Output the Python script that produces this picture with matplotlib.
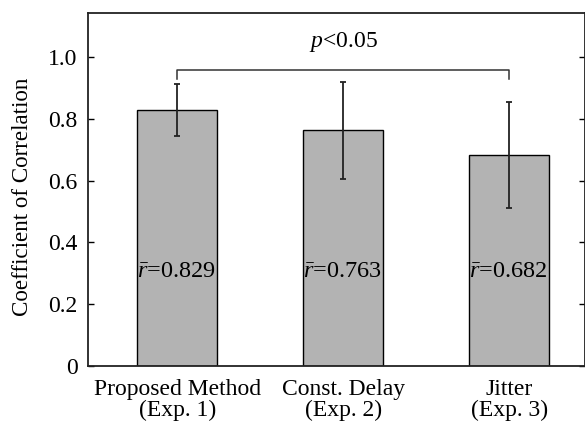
import matplotlib
matplotlib.use("Agg")
import matplotlib.pyplot as plt
import numpy as np

categories = ["Proposed Method\n(Exp. 1)", "Const. Delay\n(Exp. 2)", "Jitter\n(Exp. 3)"]
means = [0.829, 0.763, 0.682]
errors = [0.083, 0.156, 0.172]
bar_labels = ["0.829", "0.763", "0.682"]
yticks = [0, 0.2, 0.4, 0.6, 0.8, 1.0]
ytick_labels = ["0", "0.2", "0.4", "0.6", "0.8", "1.0"]
sig_text = "p<0.05"

plt.rcParams['font.family'] = ['Liberation Serif', 'DejaVu Serif']
plt.rcParams['mathtext.fontset'] = 'custom'
plt.rcParams['mathtext.rm'] = 'Liberation Serif'
plt.rcParams['mathtext.it'] = 'Liberation Serif:italic'

W, H = 585, 424
fig = plt.figure(figsize=(W / 100, H / 100), dpi=100)
left, right, top, bottom = 88, 585, 13, 366
ax = fig.add_axes([left / W, 1 - bottom / H, (right - left) / W, (bottom - top) / H])

x = np.arange(len(categories))
ax.bar(x, means, width=0.482, color='#b3b3b3', edgecolor='black', linewidth=1.0, zorder=2)
ax.errorbar(x, means, yerr=errors, fmt='none', ecolor='#222222',
            elinewidth=1.3, capsize=2.5, capthick=1.3, zorder=3)

for xi, lab in zip(x, bar_labels):
    ax.text(xi - 0.005, 0.289, r'$\bar{r}$=' + lab, ha='center', va='baseline',
            fontsize=17.5, zorder=4)

# significance bracket
ax.plot([0, 0, 2, 2], [0.930, 0.959, 0.959, 0.930], color='#333333', linewidth=1.1, zorder=3)
ax.text(1, 1.033, r'$p$<0.05', ha='center', va='baseline', fontsize=17)

ax.set_xlim(-0.539, 2.455)
ax.set_ylim(0, 1.143)
ax.set_xticks(x)
ax.set_xticklabels(categories, fontsize=17, linespacing=1.0)
ax.set_yticks(yticks)
ax.set_yticklabels(ytick_labels, fontsize=17)
ax.tick_params(axis='y', direction='in', length=4, width=1, left=True, right=True, pad=7.5)
ax.tick_params(axis='x', length=0, pad=9.5)
for s in ax.spines.values():
    s.set_linewidth(1.3)
    s.set_color('#222222')

fig.text(22.5 / W, 1 - 197 / H, "Coefficient of Correlation", rotation=90,
         ha='center', va='center', fontsize=16.6)

fig.savefig("out.png", dpi=100)
